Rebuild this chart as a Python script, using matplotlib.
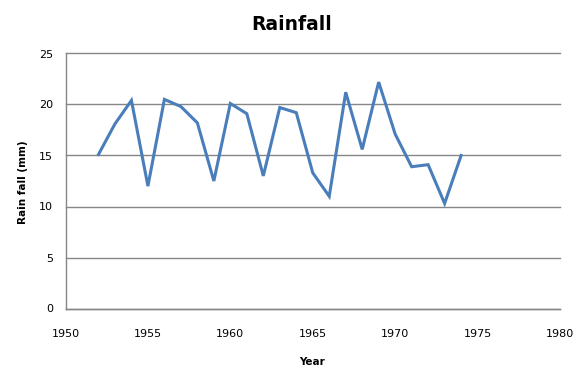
import matplotlib
matplotlib.use("Agg")
import matplotlib.pyplot as plt

# data
years = [1952, 1953, 1954, 1955, 1956, 1957, 1958, 1959, 1960, 1961, 1962, 1963,
         1964, 1965, 1966, 1967, 1968, 1969, 1970, 1971, 1972, 1973, 1974]
rainfall = [15.1, 18.1, 20.4, 12.0, 20.5, 19.8, 18.2, 12.5, 20.1, 19.1, 13.0, 19.7,
            19.2, 13.3, 11.0, 21.2, 15.6, 22.2, 17.1, 13.9, 14.1, 10.3, 15.0]
x_ticks = [1950, 1955, 1960, 1965, 1970, 1975, 1980]
y_ticks = [0, 5, 10, 15, 20, 25]

plt.rcParams['font.family'] = ['DejaVu Sans']

fig = plt.figure(figsize=(5.86, 3.78), dpi=100)
ax = fig.add_axes([65.5 / 586, 1 - 308.5 / 378, 494.5 / 586, 255 / 378])

ax.plot(years, rainfall, color='#4A7EBB', linewidth=2.2, solid_joinstyle='miter')

ax.set_xlim(1950, 1980)
ax.set_ylim(0, 25)
ax.set_xticks(x_ticks)
ax.set_yticks(y_ticks)
ax.tick_params(length=0, labelsize=8)
ax.tick_params(axis='y', pad=9)
ax.tick_params(axis='x', pad=15)

ax.grid(axis='y', color='#868686', linewidth=1)
ax.set_axisbelow(True)
# keep the 25 gridline fully drawn at the top edge
for gl in ax.get_ygridlines():
    gl.set_clip_on(False)
for side in ['top', 'right']:
    ax.spines[side].set_visible(False)
for side in ['left', 'bottom']:
    ax.spines[side].set_color('#868686')
    ax.spines[side].set_linewidth(1)

fig.text(292 / 586, 1 - 25 / 378, "Rainfall", ha='center', va='center',
         fontsize=13.5, fontweight='bold')
fig.text(312 / 586, 1 - 362 / 378, "Year", ha='center', va='center',
         fontsize=7.5, fontweight='bold')
fig.text(23 / 586, 1 - 182 / 378, "Rain fall (mm)", ha='center', va='center',
         rotation=90, fontsize=7.5, fontweight='bold')

fig.savefig("out.png", dpi=100)
